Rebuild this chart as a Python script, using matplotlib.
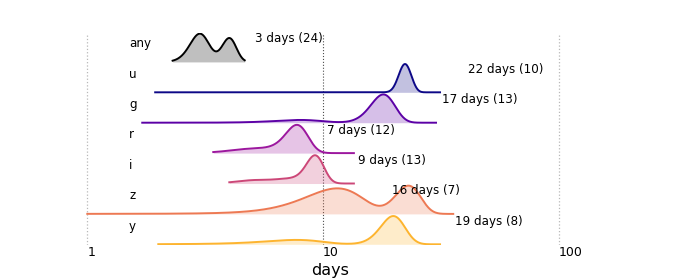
import numpy as np
import matplotlib
matplotlib.use('Agg')
import matplotlib.pyplot as plt
from matplotlib.ticker import NullLocator

# ------------------ data ------------------
bands = ['any', 'u', 'g', 'r', 'i', 'z', 'y']

# durations (days) per object
days_any = [3, 3, 3, 3, 3, 3, 3, 3, 3, 3, 3, 3, 3, 4, 4, 4, 4, 4, 4, 4, 4, 4, 4, 4]
days_u = [21, 21, 22, 22, 22, 22, 23, 23, 23, 24]
days_g = [8, 16, 17, 17, 17, 18, 18, 18, 18, 19, 19, 19, 20]
days_r = [4.6, 5.8, 7.2, 7.4, 7.5, 7.6, 7.7, 7.8, 7.9, 8.0, 8.1, 8.3]
days_i = [5.0, 6.5, 7.6, 8.8, 9.0, 9.1, 9.1, 9.2, 9.3, 9.3, 9.4, 9.6, 9.8]
days_z = [9.3, 11.5, 13.5, 21.5, 23, 24.5]
days_y = [7.7, 18.5, 19, 19.5, 20, 20, 20.5, 21.5]
all_days = [days_any, days_u, days_g, days_r, days_i, days_z, days_y]

bw_days = [0.28, 0.95, 1.8, 0.8, 0.75, 2.55, 2.16]   # kde bandwidth (days)
x_lo = [2.3, 1.94, 1.71, 3.42, 4.0, 1.0, 2.0]        # kde support
x_hi = [4.65, 31.3, 30.1, 13.5, 13.5, 35.6, 31.3]

median_days = [3, 22, 17, 7, 9, 16, 19]
n_obj = [24, 10, 13, 12, 13, 7, 8]
label_x = [5.14, 41.1, 31.9, 10.4, 14.1, 19.6, 36.3]


def kde(samples, bw, lo, hi, num=500):
    xs = np.logspace(np.log10(lo), np.log10(hi), num)
    s = np.asarray(samples, dtype=float)
    dens = np.exp(-0.5 * ((xs[:, None] - s[None, :]) / bw) ** 2).sum(axis=1)
    dens /= len(s) * bw * np.sqrt(2 * np.pi)
    return xs, dens


fig = plt.figure(figsize=(7, 2.8), dpi=100)
ax = fig.add_axes([0.091, 0.125, 0.7413, 0.757])

line_cols = ['black'] + [plt.cm.plasma(k / 6) for k in range(6)]
fill_cols = ['gray'] + [plt.cm.plasma(k / 6) for k in range(6)]
fill_alpha = [0.5] + [0.25] * 6

n = len(bands)
for i, b in enumerate(bands):
    base = n - 1 - i
    xs, d = kde(all_days[i], bw_days[i], x_lo[i], x_hi[i])
    h = d / d.max() * 0.93
    ax.fill_between(xs, base, base + h, color=fill_cols[i], alpha=fill_alpha[i],
                    lw=0, zorder=2 + i)
    ax.plot(xs, base + h, color=line_cols[i], lw=1.4, zorder=2 + i)
    ax.text(0.126, base + 0.6, b, transform=ax.get_yaxis_transform(),
            ha='left', va='center', fontsize=8.6, zorder=20)
    ax.text(label_x[i], base + 0.76, '%d days (%d)' % (median_days[i], n_obj[i]),
            ha='left', va='center', fontsize=8.6, zorder=20)

ax.set_xscale('log')
ax.set_xlim(10 ** -0.1, 10 ** 2.1)
ax.set_ylim(-0.023, 6.95)
ax.xaxis.set_minor_locator(NullLocator())
ax.set_xticks([1, 10, 100])
ax.set_xticklabels(['1', '10', '100'], ha='left')
ax.tick_params(axis='x', length=0, pad=1, labelsize=9)
ax.set_yticks([])
for sp in ax.spines.values():
    sp.set_visible(False)

for xv in [1, 100]:
    ax.axvline(xv, color='0.72', ls=':', lw=0.9, zorder=0)
ax.axvline(10, color='0.3', ls=':', lw=0.8, zorder=1)

ax.set_xlabel('days', fontsize=11.5)
ax.xaxis.set_label_coords(0.514, -0.085)

fig.savefig('out.png', dpi=100)
